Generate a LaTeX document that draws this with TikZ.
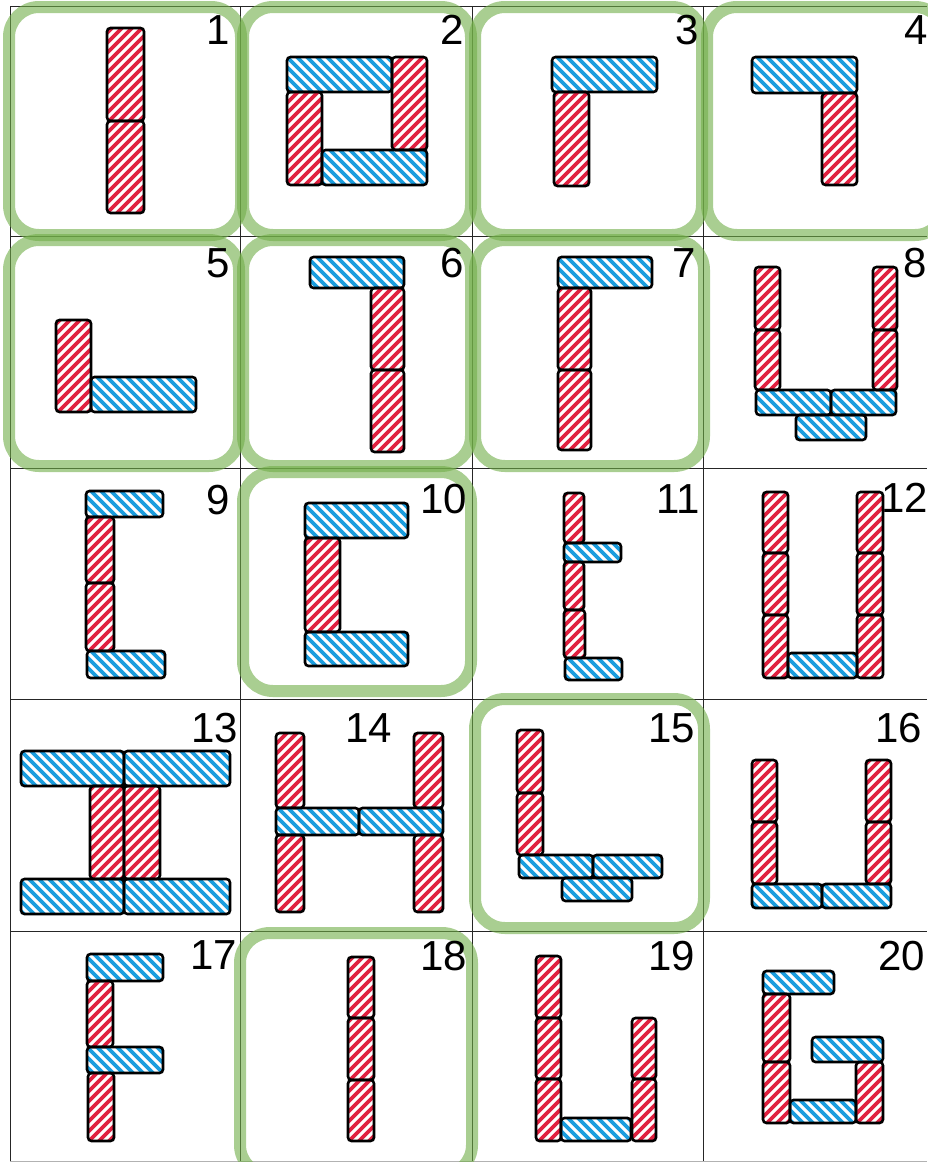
\documentclass[tikz,border=0pt]{standalone}
\usepackage{fontspec}
\setmainfont{Liberation Sans}
\definecolor{redc}{RGB}{224,33,64}
\definecolor{bluec}{RGB}{26,157,222}
\definecolor{greenc}{RGB}{112,173,71}
\tikzset{
  brickline/.style={draw=black, line width=2.6, rounded corners=3.5},
  rstripe/.style={draw=redc, line width=3.8},
  bstripe/.style={draw=bluec, line width=3.8},
  grn/.style={draw=greenc, draw opacity=0.6, line width=12, rounded corners=30},
  gridl/.style={draw=black!85, line width=1},
  lbl/.style={font=\fontsize{42}{42}\selectfont, inner sep=0, text=black}
}
\newcommand\R[4]{%
  \begin{scope}
    \clip[rounded corners=3] (#1,#2) rectangle (#3,#4);
    \pgfmathtruncatemacro\ka{(#1+#2)/10-2}
    \pgfmathtruncatemacro\kb{(#3+#4)/10+2}
    \foreach \k in {\ka,...,\kb}{
      \draw[rstripe] ({\k*10-#2+6},{#2-6}) -- ({\k*10-#4-6},{#4+6});
    }
  \end{scope}
  \path[brickline] (#1,#2) rectangle (#3,#4);
}
\newcommand\B[4]{%
  \begin{scope}
    \clip[rounded corners=3] (#1,#2) rectangle (#3,#4);
    \pgfmathtruncatemacro\ka{(#1-#4)/10-2}
    \pgfmathtruncatemacro\kb{(#3-#2)/10+2}
    \foreach \k in {\ka,...,\kb}{
      \draw[bstripe] ({\k*10+#2-6},{#2-6}) -- ({\k*10+#4+6},{#4+6});
    }
  \end{scope}
  \path[brickline] (#1,#2) rectangle (#3,#4);
}
\begin{document}
\begin{tikzpicture}[x=1pt,y=-1pt]
\useasboundingbox (0,0) rectangle (927,1162);
% grid
\foreach \xx in {10,240,472,703} \draw[gridl] (\xx,6) -- (\xx,1162);
\foreach \yy in {6,236,468,699,931} \draw[gridl] (10,\yy) -- (927,\yy);
\draw[gridl, draw=black!30] (10,1161) -- (927,1161);
% green highlight boxes
\draw[grn] (9,7) rectangle (241,235);
\draw[grn] (243,7) rectangle (471,235);
\draw[grn] (475,7) rectangle (702,235);
\draw[grn] (707,7) rectangle (945,235);
\draw[grn] (9,240) rectangle (239,466);
\draw[grn] (243,240) rectangle (471,466);
\draw[grn] (475,240) rectangle (704,466);
\draw[grn] (243,472) rectangle (471,691);
\draw[grn] (475,699) rectangle (704,928);
\draw[grn] (240,933) rectangle (472,1175);
% cell 1
\R{107}{28}{144}{121}\R{107}{121}{144}{213}
% cell 2
\B{287}{57}{392}{92}\R{392}{57}{427}{150}\R{287}{92}{322}{185}\B{322}{150}{427}{185}
% cell 3
\B{552}{57}{657}{92}\R{554}{92}{589}{186}
% cell 4
\B{752}{57}{857}{93}\R{822}{93}{857}{185}
% cell 5
\R{56}{320}{91}{412}\B{91}{377}{196}{412}
% cell 6
\B{310}{257}{404}{288}\R{371}{288}{404}{370}\R{371}{370}{404}{452}
% cell 7
\B{558}{257}{652}{288}\R{558}{288}{591}{370}\R{558}{370}{591}{450}
% cell 8
\R{755}{267}{780}{330}\R{755}{330}{780}{390}\R{873}{267}{897}{330}\R{873}{330}{897}{390}
\B{756}{390}{831}{415}\B{831}{390}{896}{415}\B{796}{415}{866}{440}
% cell 9
\B{86}{491}{163}{517}\R{86}{517}{114}{583}\R{86}{583}{114}{651}\B{87}{651}{165}{678}
% cell 10
\B{305}{503}{408}{538}\R{305}{538}{340}{632}\B{305}{632}{408}{666}
% cell 11
\R{564}{493}{584}{543}\B{564}{543}{621}{562}\R{564}{562}{584}{610}\R{564}{610}{585}{658}\B{565}{658}{622}{680}
% cell 12
\R{763}{492}{788}{553}\R{763}{553}{788}{615}\R{763}{615}{788}{678}
\R{857}{492}{883}{553}\R{857}{553}{883}{615}\R{857}{615}{883}{678}
\B{788}{653}{857}{678}
% cell 13
\B{21}{751}{124}{786}\B{124}{751}{230}{786}\R{90}{786}{124}{879}\R{124}{786}{160}{879}
\B{21}{879}{124}{914}\B{124}{879}{230}{914}
% cell 14
\R{276}{733}{304}{808}\R{414}{733}{443}{808}\B{276}{808}{359}{835}\B{359}{808}{443}{835}
\R{276}{835}{304}{912}\R{414}{835}{443}{912}
% cell 15
\R{517}{730}{543}{793}\R{517}{793}{543}{855}\B{519}{855}{593}{878}\B{593}{855}{662}{878}\B{562}{878}{632}{901}
% cell 16
\R{752}{760}{777}{822}\R{752}{822}{777}{884}\R{866}{760}{891}{822}\R{866}{822}{891}{884}
\B{752}{884}{822}{908}\B{822}{884}{891}{908}
% cell 17
\B{87}{954}{163}{981}\R{87}{981}{113}{1047}\B{87}{1047}{163}{1073}\R{88}{1073}{114}{1141}
% cell 18
\R{348}{957}{374}{1018}\R{348}{1018}{374}{1080}\R{348}{1080}{374}{1141}
% cell 19
\R{536}{956}{561}{1018}\R{536}{1018}{561}{1079}\R{536}{1079}{561}{1141}\B{561}{1118}{631}{1141}
\R{632}{1018}{656}{1079}\R{632}{1079}{656}{1141}
% cell 20
\B{763}{971}{834}{994}\R{763}{994}{790}{1062}\R{763}{1062}{790}{1123}\B{790}{1100}{856}{1123}
\R{856}{1062}{883}{1123}\B{812}{1037}{883}{1062}
% labels
\node[lbl, anchor=north east] (l1) at (230,15) {1};
\node[lbl, anchor=north east] (l2) at (464,15) {2};
\node[lbl, anchor=north east] (l3) at (699,15) {3};
\node[lbl, anchor=north west] (l4) at (904,15) {4};
\node[lbl, anchor=north east] (l5) at (230,248) {5};
\node[lbl, anchor=north east] (l6) at (464,248) {6};
\node[lbl, anchor=north east] (l7) at (696,248) {7};
\node[lbl, anchor=north west] (l8) at (903,248) {8};
\node[lbl, anchor=north east] (l9) at (230,485) {9};
\node[lbl, anchor=north east] (l10) at (467,484) {10};
\node[lbl, anchor=north east] (l11) at (700,484) {11};
\node[lbl, anchor=north west] (l12) at (881,483) {12};
\node[lbl, anchor=north east] (l13) at (238,713) {13};
\node[lbl, anchor=north east] (l14) at (392,713) {14};
\node[lbl, anchor=north east] (l15) at (695,713) {15};
\node[lbl, anchor=north east] (l16) at (922,713) {16};
\node[lbl, anchor=north east] (l17) at (237,940) {17};
\node[lbl, anchor=north east] (l18) at (467,941) {18};
\node[lbl, anchor=north east] (l19) at (695,941) {19};
\node[lbl, anchor=north east] (l20) at (925,941) {20};
\end{tikzpicture}
\end{document}
